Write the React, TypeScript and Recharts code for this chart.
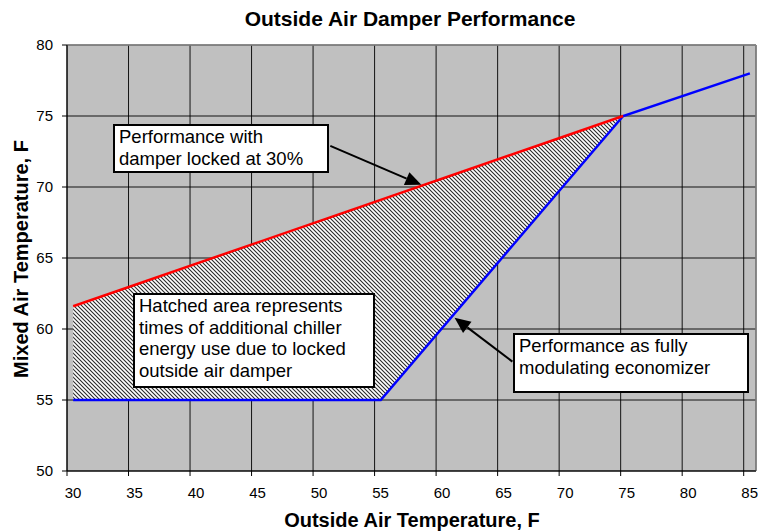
import {
  ComposedChart,
  Area,
  Line,
  XAxis,
  YAxis,
  CartesianGrid,
  ReferenceLine,
} from 'recharts'

const FONT = '"Liberation Sans", Arial, Helvetica, sans-serif'

// axis ticks
const xTicks = [30, 35, 40, 45, 50, 55, 60, 65, 70, 75, 80, 85]
const yTicks = [50, 55, 60, 65, 70, 75, 80]

// damper locked at 30% (red)
const lockedX = [30.5, 75.2]
const lockedY = [61.6, 75]

// fully modulating economizer (blue)
const econX = [30.5, 55.5, 75.2, 85.5]
const econY = [55, 55, 75, 78]

// hatched band between the two curves
const hatchX = [30.5, 55.5, 75.2]
const hatchLow = [55, 55, 75]
const hatchHigh = [61.6, 69.1, 75]

// annotation arrows: [from, to] in chart units
const arrowLocked = [
  { x: 51.4, y: 72.9 },
  { x: 58.8, y: 70.15 },
]
const arrowEcon = [
  { x: 66.2, y: 57.7 },
  { x: 61.5, y: 60.8 },
]

const lockedData = lockedX.map((x, i) => ({ x, y: lockedY[i] }))
const econData = econX.map((x, i) => ({ x, y: econY[i] }))
const hatchData = hatchX.map((x, i) => ({ x, range: [hatchLow[i], hatchHigh[i]] }))

const Arrow = (p: any) => {
  const { x1, y1, x2, y2 } = p
  const dx = x2 - x1
  const dy = y2 - y1
  const len = Math.sqrt(dx * dx + dy * dy) || 1
  const ux = dx / len
  const uy = dy / len
  const hl = 16 // head length
  const hw = 7 // half width
  const bx = x2 - ux * hl
  const by = y2 - uy * hl
  return (
    <g>
      <line x1={x1} y1={y1} x2={bx} y2={by} stroke="#000" strokeWidth={2} />
      <polygon
        points={`${x2},${y2} ${bx - uy * hw},${by + ux * hw} ${bx + uy * hw},${by - ux * hw}`}
        fill="#000"
      />
    </g>
  )
}

const boxStyle = (left: number, top: number, width: number, height: number): React.CSSProperties => ({
  position: 'absolute',
  left,
  top,
  width,
  height,
  boxSizing: 'border-box',
  border: '2px solid #000',
  background: '#fff',
  padding: '0 0 0 4px',
  fontFamily: FONT,
  fontSize: 18.5,
  lineHeight: '21.7px',
  color: '#000',
  whiteSpace: 'nowrap',
})

const tickStyle = { fill: '#000', fontSize: 15, fontFamily: FONT }

export default function App() {
  return (
    <div style={{ position: 'absolute', left: 0, top: 0, width: 759, height: 531, background: '#fff', overflow: 'hidden' }}>
      <ComposedChart
        width={759}
        height={531}
        margin={{ top: 45, right: 3, bottom: 0, left: 0 }}
      >
        <defs>
          <pattern id="hatch" patternUnits="userSpaceOnUse" width={4} height={4}>
            <rect x={0} y={0} width={4} height={4} fill="#fff" />
            <path d="M-1,3 l2,2 M0,0 l4,4 M3,-1 l2,2" stroke="#2a2a2a" strokeWidth={1.1} />
          </pattern>
        </defs>
        <CartesianGrid fill="#c0c0c0" stroke="#000" strokeOpacity={0.9} />
        <XAxis
          dataKey="x"
          type="number"
          domain={[30, 86]}
          ticks={xTicks}
          allowDataOverflow
          height={60}
          tickSize={5}
          tickMargin={11}
          axisLine={{ stroke: '#000' }}
          tickLine={{ stroke: '#000' }}
          tick={{ ...tickStyle, dx: 6 }}
        />
        <YAxis
          type="number"
          domain={[50, 80]}
          ticks={yTicks}
          allowDataOverflow
          width={67}
          tickSize={5}
          tickMargin={9}
          axisLine={{ stroke: '#000' }}
          tickLine={{ stroke: '#000' }}
          tick={tickStyle}
        />
        <ReferenceLine y={80} stroke="#8a8a8a" strokeWidth={1.5} />
        <ReferenceLine x={86} stroke="#8a8a8a" strokeWidth={1.5} />
        <Area
          data={hatchData}
          dataKey="range"
          type="linear"
          stroke="none"
          fill="url(#hatch)"
          fillOpacity={1}
          isAnimationActive={false}
        />
        <Line
          data={econData}
          dataKey="y"
          type="linear"
          stroke="#0000ff"
          strokeWidth={2.5}
          dot={false}
          isAnimationActive={false}
        />
        <Line
          data={lockedData}
          dataKey="y"
          type="linear"
          stroke="#ff0000"
          strokeWidth={2.5}
          dot={false}
          isAnimationActive={false}
        />
        <ReferenceLine segment={arrowLocked} shape={Arrow} />
        <ReferenceLine segment={arrowEcon} shape={Arrow} />
      </ComposedChart>

      {/* title and axis titles */}
      <div
        style={{
          position: 'absolute', left: 160, top: 8, width: 500, textAlign: 'center',
          fontFamily: FONT, fontWeight: 'bold', fontSize: 21, lineHeight: '21px', color: '#000',
        }}
      >
        Outside Air Damper Performance
      </div>
      <div
        style={{
          position: 'absolute', left: 162, top: 510, width: 500, textAlign: 'center',
          fontFamily: FONT, fontWeight: 'bold', fontSize: 20, lineHeight: '20px', color: '#000',
        }}
      >
        Outside Air Temperature, F
      </div>
      <div
        style={{
          position: 'absolute', left: 20.5 - 150, top: 259 - 12, width: 300, height: 24, textAlign: 'center',
          transform: 'rotate(-90deg)',
          fontFamily: FONT, fontWeight: 'bold', fontSize: 20, lineHeight: '24px', color: '#000',
        }}
      >
        Mixed Air Temperature, F
      </div>

      {/* annotation boxes */}
      <div style={boxStyle(113, 124, 216, 49)}>
        Performance with
        <br />
        damper locked at 30%
      </div>
      <div style={boxStyle(133, 293, 242, 95)}>
        Hatched area represents
        <br />
        times of additional chiller
        <br />
        energy use due to locked
        <br />
        outside air damper
      </div>
      <div style={boxStyle(513, 333, 236, 60)}>
        Performance as fully
        <br />
        modulating economizer
      </div>
    </div>
  )
}
